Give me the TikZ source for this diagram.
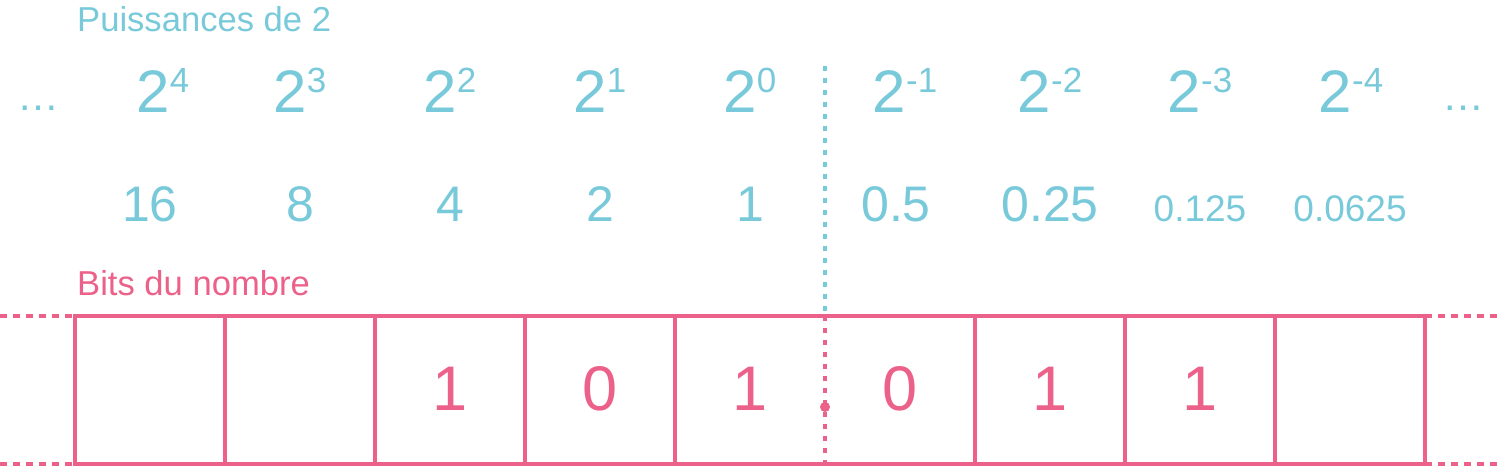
\documentclass[tikz,border=0pt]{standalone}
\usepackage{fontspec}
\setmainfont{Liberation Sans}
\definecolor{pblue}{RGB}{120,201,217}
\definecolor{ppink}{RGB}{236,97,137}
\newcommand\powtxt[1]{\fontsize{60}{60}\selectfont 2\raisebox{20pt}{\fontsize{35}{35}\selectfont #1}}
\begin{document}
\begin{tikzpicture}[x=1pt,y=-1pt,
  lbl/.style={anchor=base west, inner sep=0, font=\fontsize{34.6}{34.6}\selectfont},
  pow/.style={anchor=base, inner sep=0, text=pblue},
  val/.style={anchor=base, inner sep=0, text=pblue, font=\fontsize{50}{50}\selectfont},
  sval/.style={anchor=base, inner sep=0, text=pblue, font=\fontsize{37}{37}\selectfont},
  dots/.style={anchor=base, inner sep=0, text=pblue, font=\fontsize{42}{42}\selectfont},
  bitcell/.style={minimum width=150pt, minimum height=148pt, inner sep=0, outer sep=0},
  grid/.style={draw=ppink, line width=4pt, line cap=rect},
  bit/.style={anchor=base, inner sep=0, text=ppink, font=\fontsize{63}{63}\selectfont},
  ext/.style={draw=ppink, line width=4pt, dash pattern=on 7pt off 6pt},
  sep/.style={line width=4.5pt, dash pattern=on 5pt off 7pt}]
\useasboundingbox (0,0) rectangle (1500,468);
% titles
\node[lbl, text=pblue] (t1) at (77,32) {Puissances de 2};
\node[lbl, text=ppink] (t2) at (77,295) {Bits du nombre};
% dots
\node[dots] (dl) at (38,111) {…};
\node[dots] (dr) at (1463,111) {…};
% powers
\node[pow] (p4) at (163,113) {\powtxt{4}};
\node[pow] (p3) at (300,113) {\powtxt{3}};
\node[pow] (p2) at (450,113) {\powtxt{2}};
\node[pow] (p1) at (600,113) {\powtxt{1}};
\node[pow] (p0) at (750,113) {\powtxt{0}};
\node[pow] (m1) at (905,113) {\powtxt{-1}};
\node[pow] (m2) at (1050,113) {\powtxt{-2}};
\node[pow] (m3) at (1200,113) {\powtxt{-3}};
\node[pow] (m4) at (1351,113) {\powtxt{-4}};
% values
\node[val] (v4) at (150,222) {16};
\node[val] (v3) at (300,222) {8};
\node[val] (v2) at (450,222) {4};
\node[val] (v1) at (600,222) {2};
\node[val] (v0) at (750,222) {1};
\node[val] (w1) at (896,222) {0.5};
\node[val] (w2) at (1050,222) {0.25};
\node[sval] (w3) at (1200,222) {0.125};
\node[sval] (w4) at (1350,222) {0.0625};
% cells
\foreach \i in {1,...,9} {
  \node[bitcell] (c\i) at (150*\i,390) {};
}
\draw[grid] (c1.north west) -- (c9.north east);
\draw[grid] (c1.south west) -- (c9.south east);
\draw[grid] (c1.north west) -- (c1.south west);
\foreach \i in {1,2,3,4,6,7,8,9} {
  \draw[grid] (c\i.north east) -- (c\i.south east);
}
% extensions
\coordinate (elt) at (0,316);
\coordinate (elb) at (0,464);
\coordinate (ert) at (1500,316);
\coordinate (erb) at (1500,464);
\draw[ext] (elt) -- (c1.north west);
\draw[ext] (elb) -- (c1.south west);
\draw[ext] (c9.north east) -- (ert);
\draw[ext] (c9.south east) -- (erb);
% bits
\node[bit] (b3) at (450,410) {1};
\node[bit] (b4) at (600,410) {0};
\node[bit] (b5) at (750,410) {1};
\node[bit] (b6) at (900,410) {0};
\node[bit] (b7) at (1050,410) {1};
\node[bit] (b8) at (1200,410) {1};
% separator
\coordinate (stop) at (825,66);
\draw[sep, draw=pblue] (stop) -- (c5.north east);
\draw[sep, draw=ppink] (c5.north east) -- (c5.south east);
\fill[ppink] (825,407) circle (5pt);
\end{tikzpicture}
\end{document}
